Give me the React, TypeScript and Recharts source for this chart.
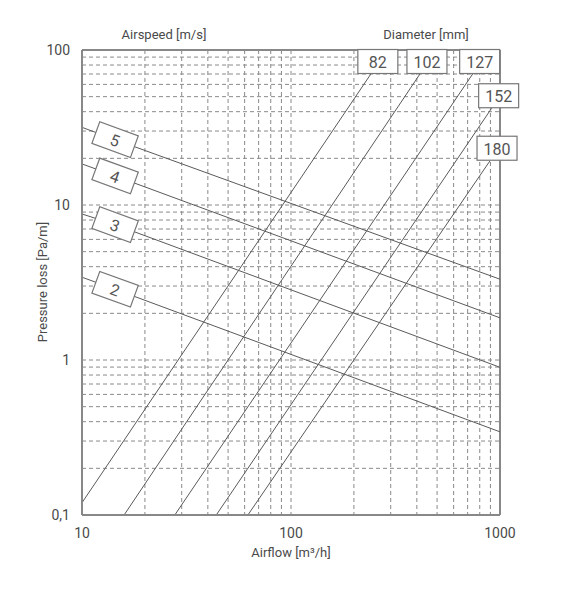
import { LineChart, Line, XAxis, YAxis, CartesianGrid, ReferenceLine } from 'recharts';

// airflow grid ticks (m3/h) and pressure grid ticks (Pa/m)
const xTicks = [10, 20, 30, 40, 50, 60, 70, 80, 90, 100, 200, 300, 400, 500, 600, 700, 800, 900, 1000];
const yTicks = [
  0.1, 0.2, 0.3, 0.4, 0.5, 0.6, 0.7, 0.8, 0.9,
  1, 2, 3, 4, 5, 6, 7, 8, 9,
  10, 20, 30, 40, 50, 60, 70, 80, 90, 100,
];
const xLabels: Record<number, string> = { 10: '10', 100: '100', 1000: '1000' };
const yLabels: Record<number, string> = { 0.1: '0,1', 1: '1', 10: '10', 100: '100' };

// diameter lines (mm): start point, end point under the tag
const d82 = [{ q: 10, p: 0.12 }, { q: 241, p: 70 }];
const d102 = [{ q: 15.9, p: 0.1 }, { q: 414, p: 70 }];
const d127 = [{ q: 27.8, p: 0.1 }, { q: 740, p: 70 }];
const d152 = [{ q: 43.9, p: 0.1 }, { q: 912, p: 42.1 }];
const d180 = [{ q: 62.2, p: 0.1 }, { q: 896, p: 19.3 }];

// airspeed lines (m/s): left edge, tag position, right edge
const v5 = [{ q: 10, p: 31.7 }, { q: 14.4, p: 26.4 }, { q: 1000, p: 3.32 }];
const v4 = [{ q: 10, p: 18.4 }, { q: 14.4, p: 15.4 }, { q: 1000, p: 1.87 }];
const v3 = [{ q: 10, p: 8.75 }, { q: 14.4, p: 7.47 }, { q: 1000, p: 0.897 }];
const v2 = [{ q: 10, p: 3.42 }, { q: 14.4, p: 2.86 }, { q: 1000, p: 0.344 }];

const diameters = [
  { name: '82', data: d82 },
  { name: '102', data: d102 },
  { name: '127', data: d127 },
  { name: '152', data: d152 },
  { name: '180', data: d180 },
];
const speeds = [
  { name: '5', data: v5 },
  { name: '4', data: v4 },
  { name: '3', data: v3 },
  { name: '2', data: v2 },
];

const LINE = '#5a5a5a';
const FONT = 'Roboto, "DejaVu Sans", sans-serif';

function diameterTag(label: string) {
  return (props: any) => {
    const { cx, cy, index } = props;
    if (index !== 1) return <g key={index} />;
    const x = cx + 7;
    const y = cy - 12.5;
    return (
      <g key={index}>
        <rect x={x - 20} y={y - 12} width={40} height={24} fill="#fff" stroke="#777" strokeWidth={1.2} />
        <text x={x} y={y + 1} textAnchor="middle" dominantBaseline="central" fontSize={16} fill="#555" fontFamily={FONT}>
          {label}
        </text>
      </g>
    );
  };
}

function speedTag(label: string) {
  return (props: any) => {
    const { cx, cy, index } = props;
    if (index !== 1) return <g key={index} />;
    return (
      <g key={index} transform={`rotate(20 ${cx} ${cy})`}>
        <rect x={cx - 20.5} y={cy - 11.5} width={41} height={23} fill="#fff" stroke="#777" strokeWidth={1.2} />
        <text x={cx} y={cy + 1} textAnchor="middle" dominantBaseline="central" fontSize={16} fill="#555" fontFamily={FONT}>
          {label}
        </text>
      </g>
    );
  };
}

const titleStyle: React.CSSProperties = {
  position: 'absolute',
  fontFamily: FONT,
  fontSize: 13,
  color: '#4a4a4a',
  whiteSpace: 'nowrap',
};

export default function App() {
  return (
    <div style={{ position: 'absolute', left: 0, top: 0, width: 567, height: 592, background: '#fff' }}>
      <LineChart width={567} height={592} margin={{ top: 50, right: 67, bottom: 47, left: 22 }}>
        <CartesianGrid stroke="#8a8a8a" strokeDasharray="4 3" strokeWidth={1} />
        <XAxis
          dataKey="q"
          type="number"
          scale="log"
          domain={[10, 1000]}
          ticks={xTicks}
          interval={0}
          height={30}
          tickLine={false}
          axisLine={{ stroke: '#888', strokeWidth: 2 }}
          tickFormatter={(v: number) => xLabels[v] ?? ''}
          tick={{ fill: '#4a4a4a', fontSize: 14, fontFamily: FONT }}
          tickMargin={7}
          allowDuplicatedCategory={false}
        />
        <YAxis
          type="number"
          scale="log"
          domain={[0.1, 100]}
          ticks={yTicks}
          interval={0}
          width={60}
          tickLine={false}
          axisLine={{ stroke: '#888', strokeWidth: 2 }}
          tickFormatter={(v: number) => yLabels[v] ?? ''}
          tick={{ fill: '#4a4a4a', fontSize: 14, fontFamily: FONT }}
          tickMargin={6}
        />
        <ReferenceLine y={100} stroke="#888" strokeWidth={2} />
        <ReferenceLine x={1000} stroke="#888" strokeWidth={2} />
        {speeds.map((s) => (
          <Line
            key={'v' + s.name}
            data={s.data}
            dataKey="p"
            stroke={LINE}
            strokeWidth={1}
            dot={speedTag(s.name)}
            activeDot={false}
            isAnimationActive={false}
          />
        ))}
        {diameters.map((d) => (
          <Line
            key={'d' + d.name}
            data={d.data}
            dataKey="p"
            stroke={LINE}
            strokeWidth={1}
            dot={diameterTag(d.name)}
            activeDot={false}
            isAnimationActive={false}
          />
        ))}
      </LineChart>
      <div style={{ ...titleStyle, left: 164, top: 34, transform: 'translate(-50%, -50%)' }}>Airspeed [m/s]</div>
      <div style={{ ...titleStyle, left: 426, top: 34, transform: 'translate(-50%, -50%)' }}>Diameter [mm]</div>
      <div style={{ ...titleStyle, left: 291, top: 552, transform: 'translate(-50%, -50%)' }}>Airflow [m³/h]</div>
      <div style={{ ...titleStyle, left: 42, top: 282, transform: 'translate(-50%, -50%) rotate(-90deg)' }}>
        Pressure loss [Pa/m]
      </div>
    </div>
  );
}
